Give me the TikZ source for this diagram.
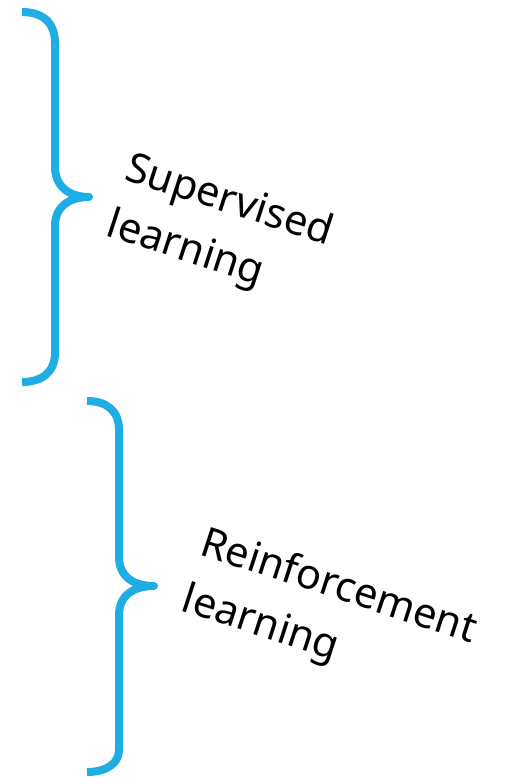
\documentclass[tikz,border=0pt]{standalone}
\usepackage{fontspec}
\setmainfont{Noto Sans}
\definecolor{bracecol}{RGB}{31,173,228}
\begin{document}
\begin{tikzpicture}[x=1pt,y=-1pt,
  bracestroke/.style={draw=bracecol,line width=8pt,line join=round},
  lbl/.style={anchor=base west,inner sep=0pt,rotate=-18,font=\fontsize{41.5}{59}\selectfont}]
\useasboundingbox (0,0) rectangle (505,777);
\draw[bracestroke] (22,12) .. controls (42,12) and (55,22) .. (55,43) -- (55,167)
  .. controls (55,187) and (70,197) .. (89,197)
  .. controls (70,197) and (55,206) .. (55,226) -- (55,353)
  .. controls (55,372) and (42,382) .. (22,382);
\draw[bracestroke] (87,401) .. controls (107,401) and (119,411) .. (119,430) -- (119,557)
  .. controls (119,577) and (134,586) .. (154,586)
  .. controls (134,586) and (119,595) .. (119,615) -- (119,750)
  .. controls (119,763) and (107,772) .. (87,772);
\node[lbl] (sup) at (123,179) {\begin{tabular}[t]{@{}l@{}}Supervised\\learning\end{tabular}};
\node[lbl] (rl) at (198,554) {\begin{tabular}[t]{@{}l@{}}Reinforcement\\learning\end{tabular}};
\end{tikzpicture}
\end{document}
